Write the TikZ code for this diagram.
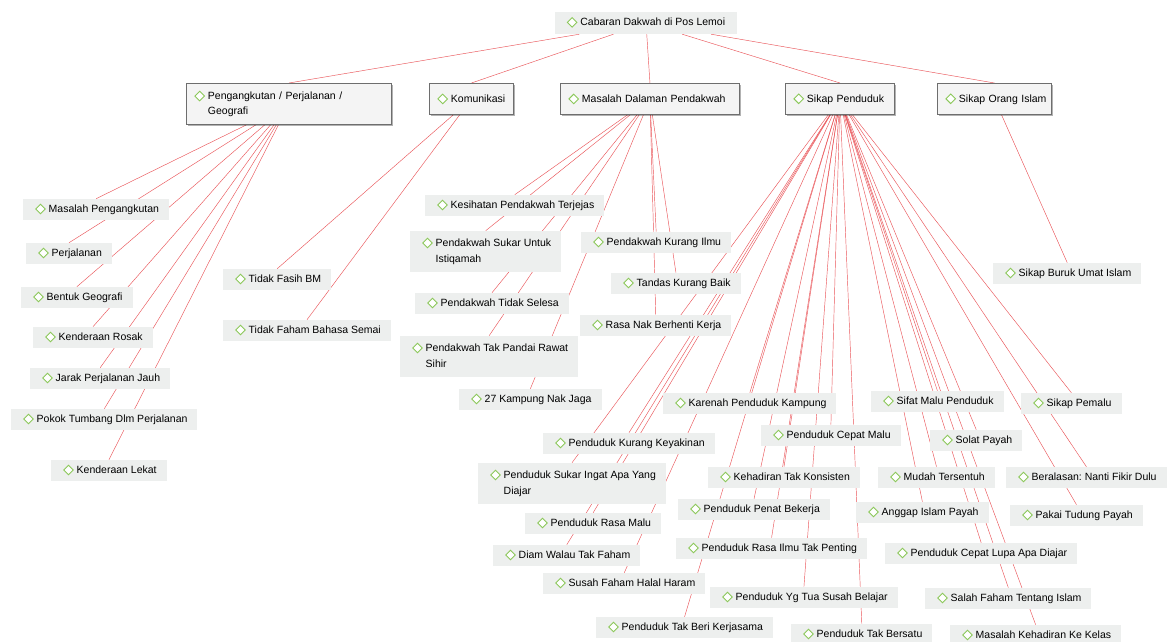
\documentclass[tikz,border=0pt]{standalone}
\usepackage{fontspec}
\setmainfont{Liberation Sans}
\usetikzlibrary{shadows}
\frenchspacing
\definecolor{lnk}{RGB}{234,86,90}
\definecolor{leafbg}{RGB}{237,239,238}
\definecolor{catbg}{RGB}{244,244,244}
\definecolor{catln}{RGB}{110,110,110}
\definecolor{dgreen}{RGB}{140,200,90}
\pgfdeclarelayer{bg}
\pgfsetlayers{bg,main}
\newcommand{\dm}{\tikz[x=1pt,y=1pt,baseline=-3.4pt]\draw[dgreen,line width=0.9pt,fill=white] (0,0)--(4.8,4.8)--(9.6,0)--(4.8,-4.8)--cycle;}
\newcommand{\lf}[1]{\hspace*{12pt}\dm\hspace{3pt}#1\hspace*{10pt}}
\newcommand{\tl}[2]{\begin{tabular}[t]{@{}l@{}}#1\\#2\end{tabular}}
\newcommand{\leaf}[4]{\node[leaf,one] (#1) at ({#2-17},{#3+3.4}) {\lf{#4}};}
\tikzset{
  leaf/.style={fill=leafbg, anchor=base west, inner xsep=0pt, inner ysep=5.5pt, font=\fontsize{10.5}{16.5}\selectfont},
  one/.style={text height=8pt, text depth=2.5pt},
  cat/.style={fill=catbg, draw=catln, line width=0.9pt, anchor=north west, inner xsep=8pt, inner ysep=3pt,
    font=\fontsize{10.5}{15}\selectfont, align=left,
    drop shadow={shadow xshift=1.5pt, shadow yshift=-1.5pt, opacity=0.3, fill=black}},
  link/.style={draw=lnk, line width=0.45pt},
}
\begin{document}
\begin{tikzpicture}[x=1pt,y=-1pt]
\useasboundingbox (0,0) rectangle (1169,641);
% root
\node[fill=leafbg, minimum width=182pt, minimum height=22pt, inner sep=0pt, font=\fontsize{10.5}{15}\selectfont,
  text height=8pt, text depth=2.5pt] (root) at (646,23) {\dm\hspace{3pt}Cabaran Dakwah di Pos Lemoi};
% categories
\node[cat, minimum width=205pt, minimum height=41pt, text width=189pt] (c1) at (186,83)
  {\dm\hspace{3pt}\tl{Pengangkutan / Perjalanan /}{Geografi}};
\node[cat, minimum width=84pt, minimum height=31pt, text width=68pt] (c2) at (429,83) {\mbox{\dm\hspace{3pt}Komunikasi}};
\node[cat, minimum width=179pt, minimum height=31pt, text width=163pt] (c3) at (560,83) {\mbox{\dm\hspace{3pt}Masalah Dalaman Pendakwah}};
\node[cat, minimum width=109pt, minimum height=31pt, text width=93pt] (c4) at (785,83) {\mbox{\dm\hspace{3pt}Sikap Penduduk}};
\node[cat, minimum width=114pt, minimum height=31pt, text width=98pt] (c5) at (937,83) {\mbox{\dm\hspace{3pt}Sikap Orang Islam}};
% Pengangkutan
\leaf{a1}{40}{209}{Masalah Pengangkutan}
\leaf{a2}{43}{253}{Perjalanan}
\leaf{a3}{38}{297}{Bentuk Geografi}
\leaf{a4}{50}{337}{Kenderaan Rosak}
\leaf{a5}{47}{378}{Jarak Perjalanan Jauh}
\leaf{a6}{28}{419}{Pokok Tumbang Dlm Perjalanan}
\leaf{a7}{68}{470}{Kenderaan Lekat}
% Komunikasi
\leaf{b1}{240}{279}{Tidak Fasih BM}
\leaf{b2}{240}{330}{Tidak Faham Bahasa Semai}
% Masalah Dalaman
\leaf{m1}{442}{205}{Kesihatan Pendakwah Terjejas}
\node[leaf, inner ysep=4pt] (m2) at (410,246.4) {\lf{\tl{Pendakwah Sukar Untuk}{Istiqamah}}};
\leaf{m3}{432}{303}{Pendakwah Tidak Selesa}
\node[leaf, inner ysep=4pt] (m4) at (400,351.4) {\lf{\tl{Pendakwah Tak Pandai Rawat}{Sihir}}};
\leaf{m5}{476}{399}{27 Kampung Nak Jaga}
\leaf{m6}{598}{242}{Pendakwah Kurang Ilmu}
\leaf{m7}{628}{283}{Tandas Kurang Baik}
\leaf{m8}{597}{325}{Rasa Nak Berhenti Kerja}
% Sikap Penduduk
\leaf{s1}{680}{403}{Karenah Penduduk Kampung}
\leaf{s2}{560}{443}{Penduduk Kurang Keyakinan}
\node[leaf, inner ysep=4pt] (s3) at (478,478.4) {\lf{\tl{Penduduk Sukar Ingat Apa Yang}{Diajar}}};
\leaf{s4}{542}{523}{Penduduk Rasa Malu}
\leaf{s5}{510}{555}{Diam Walau Tak Faham}
\leaf{s6}{560}{583}{Susah Faham Halal Haram}
\leaf{s7}{613}{627}{Penduduk Tak Beri Kerjasama}
\leaf{s8}{778}{435}{Penduduk Cepat Malu}
\leaf{s9}{725}{477}{Kehadiran Tak Konsisten}
\leaf{s10}{695}{509}{Penduduk Penat Bekerja}
\leaf{s11}{693}{548}{Penduduk Rasa Ilmu Tak Penting}
\leaf{s12}{727}{597}{Penduduk Yg Tua Susah Belajar}
\leaf{s13}{808}{634}{Penduduk Tak Bersatu}
\leaf{s14}{888}{401}{Sifat Malu Penduduk}
\leaf{s15}{947}{440}{Solat Payah}
\leaf{s16}{895}{477}{Mudah Tersentuh}
\leaf{s17}{873}{512}{Anggap Islam Payah}
\leaf{s18}{902}{553}{Penduduk Cepat Lupa Apa Diajar}
\leaf{s19}{942}{598}{Salah Faham Tentang Islam}
\leaf{s20}{967}{635}{Masalah Kehadiran Ke Kelas}
\leaf{s21}{1038}{403}{Sikap Pemalu}
\leaf{s22}{1023}{477}{Beralasan: Nanti Fikir Dulu}
\leaf{s23}{1027}{515}{Pakai Tudung Payah}
% Sikap Orang Islam
\leaf{o1}{1010}{273}{Sikap Buruk Umat Islam}
\begin{pgfonlayer}{bg}
\fill[white] (0,0) rectangle (1169,641);
\foreach \c in {c1,c2,c3,c4,c5} \draw[link] (root) -- (\c.north);
\foreach \c in {a1,a2,a3,a4,a5,a6,a7} \draw[link] (c1) -- (\c.north);
\foreach \c in {b1,b2} \draw[link] (c2) -- (\c.north);
\foreach \c in {m1,m2,m3,m4,m5,m6,m7,m8} \draw[link] (c3) -- (\c.north);
\foreach \c in {s1,s2,s3,s4,s5,s6,s7,s8,s9,s10,s11,s12,s13,s14,s15,s16,s17,s18,s19,s20,s21,s22,s23} \draw[link] (c4) -- (\c.north);
\draw[link] (c5) -- (o1.north);
\end{pgfonlayer}
\end{tikzpicture}
\end{document}
